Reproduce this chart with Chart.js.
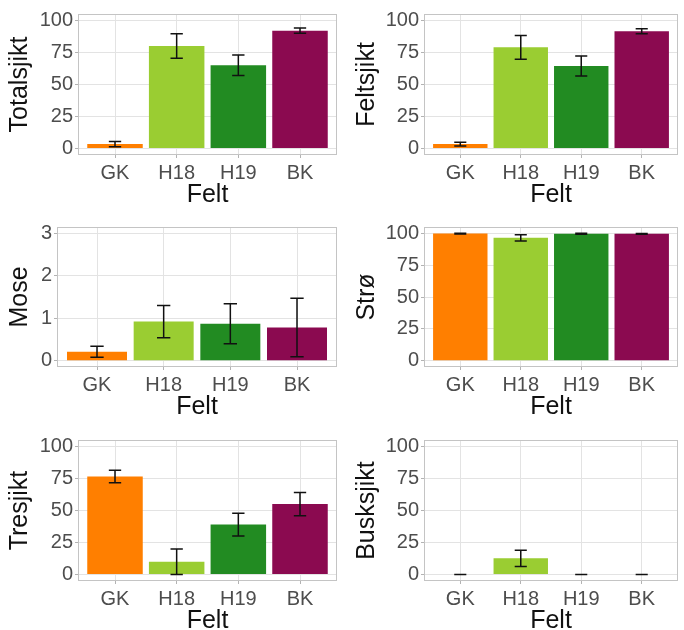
<!DOCTYPE html>
<html>
<head>
<meta charset="utf-8">
<script src="https://cdn.jsdelivr.net/npm/chart.js@4/dist/chart.umd.min.js"></script>
<style>
  html, body { margin: 0; padding: 0; background: #fff; overflow: hidden; }
  #wrap { position: relative; width: 684px; height: 630px; }
  #wrap canvas { position: absolute; }
</style>
</head>
<body>
<div id="wrap"></div>
<script>
// Field categories and their bar colours
const categories = ['GK', 'H18', 'H19', 'BK'];
const barColors = ['#FF7F00', '#9ACD32', '#228B22', '#8B0A50'];

// Mean cover per field and error (± half-width) for each layer
const totalsjikt    = [3.5, 80, 65, 92];
const totalsjiktErr = [2, 9.5, 8, 2];
const feltsjikt     = [3.5, 79, 64.5, 91.5];
const feltsjiktErr  = [1.5, 9.3, 7.8, 2];
const mose          = [0.21, 0.92, 0.87, 0.78];
const moseErr       = [0.13, 0.38, 0.47, 0.69];
const stro          = [99.8, 96.5, 99.7, 99.6];
const stroErr       = [0.3, 2.5, 0.3, 0.3];
const tresjikt      = [76.5, 10, 39, 55];
const tresjiktErr   = [4.9, 10, 8.9, 9];
const busksjikt     = [0, 12.7, 0, 0];
const busksjiktErr  = [0, 6.3, 0, 0];

// Y tick values
const pctMajor  = [0, 25, 50, 75, 100];
const pctMinor  = [12.5, 37.5, 62.5, 87.5];
const moseMajor = [0, 1, 2, 3];
const moseMinor = [0.5, 1.5, 2.5];

const xTitle = 'Felt';
const FONT = '"Liberation Sans", Arial, Helvetica, sans-serif';

// Page layout of the six plot panels: [left, top, right, bottom]
const panels = [
  { title: 'Totalsjikt', mean: totalsjikt, err: totalsjiktErr, lim: [-5, 105],     major: pctMajor,  minor: pctMinor,  col: 0,   rect: [78, 12, 337, 155] },
  { title: 'Feltsjikt',  mean: feltsjikt,  err: feltsjiktErr,  lim: [-5, 105],     major: pctMajor,  minor: pctMinor,  col: 342, rect: [424, 12, 678, 155] },
  { title: 'Mose',       mean: mose,       err: moseErr,       lim: [-0.15, 3.15], major: moseMajor, minor: moseMinor, col: 0,   rect: [57, 225, 337, 367] },
  { title: 'Strø',       mean: stro,       err: stroErr,       lim: [-5, 105],     major: pctMajor,  minor: pctMinor,  col: 342, rect: [424, 225, 678, 367] },
  { title: 'Tresjikt',   mean: tresjikt,   err: tresjiktErr,   lim: [-5, 105],     major: pctMajor,  minor: pctMinor,  col: 0,   rect: [78, 438, 337, 581] },
  { title: 'Busksjikt',  mean: busksjikt,  err: busksjiktErr,  lim: [-5, 105],     major: pctMajor,  minor: pctMinor,  col: 342, rect: [424, 438, 678, 581] }
];

const PAD_TOP = 12;
const X_AXIS_H = 55;
const COL_W = 342;

// Error bars drawn through the chart's own scales
function errorBars(means, errs) {
  return {
    id: 'errorBars',
    afterDatasetsDraw(chart) {
      const { ctx, scales: { x, y } } = chart;
      ctx.save();
      ctx.strokeStyle = '#111';
      ctx.lineWidth = 1.5;
      means.forEach((m, i) => {
        const cx = x.getPixelForValue(i + 1);
        const x0 = x.getPixelForValue(i + 0.9);
        const x1 = x.getPixelForValue(i + 1.1);
        const yHi = y.getPixelForValue(m + errs[i]);
        const yLo = y.getPixelForValue(m - errs[i]);
        ctx.beginPath();
        ctx.moveTo(cx, yHi); ctx.lineTo(cx, yLo);
        ctx.moveTo(x0, yHi); ctx.lineTo(x1, yHi);
        ctx.moveTo(x0, yLo); ctx.lineTo(x1, yLo);
        ctx.stroke();
      });
      ctx.restore();
    }
  };
}

// Light grey border round the plot panel
const panelBorder = {
  id: 'panelBorder',
  afterDraw(chart) {
    const { ctx, chartArea: a } = chart;
    ctx.save();
    ctx.strokeStyle = '#c4c4c4';
    ctx.lineWidth = 1;
    ctx.strokeRect(Math.round(a.left) + 0.5, Math.round(a.top) + 0.5,
                   Math.round(a.right - a.left) - 1, Math.round(a.bottom - a.top) - 1);
    ctx.restore();
  }
};

const wrap = document.getElementById('wrap');

panels.forEach(p => {
  const [L, T, R, B] = p.rect;
  const padLeft = p.col === 0 ? 5 : 10;
  const canvas = document.createElement('canvas');
  const w = COL_W, h = (B - T) + PAD_TOP + X_AXIS_H;
  canvas.width = w; canvas.height = h;
  canvas.style.left = p.col + 'px';
  canvas.style.top = (T - PAD_TOP) + 'px';
  canvas.style.width = w + 'px';
  canvas.style.height = h + 'px';
  wrap.appendChild(canvas);

  const yTicks = [...p.major, ...p.minor].sort((a, b) => a - b);
  const isMajor = v => p.major.includes(v);

  new Chart(canvas, {
    type: 'bar',
    data: {
      datasets: [{
        data: p.mean.map((v, i) => ({ x: i + 1, y: v })),
        backgroundColor: barColors,
        borderWidth: 0,
        barPercentage: 0.9,
        categoryPercentage: 1.0
      }]
    },
    options: {
      responsive: false,
      animation: false,
      devicePixelRatio: 1,
      layout: { padding: { left: padLeft, right: p.col + COL_W - R, top: PAD_TOP, bottom: 0 } },
      plugins: { legend: { display: false }, tooltip: { enabled: false } },
      scales: {
        x: {
          type: 'linear',
          offset: false,
          min: 0.4, max: 4.6,
          afterBuildTicks: s => { s.ticks = categories.map((c, i) => ({ value: i + 1 })); },
          afterFit: s => { s.height = X_AXIS_H; },
          ticks: {
            callback: v => categories[v - 1],
            color: '#4d4d4d',
            font: { family: FONT, size: 20 },
            padding: 3,
            maxRotation: 0, autoSkip: false
          },
          grid: { offset: false, color: '#e3e3e3', lineWidth: 1, tickColor: '#b3b3b3', tickLength: 3 },
          border: { display: false },
          title: {
            display: true, text: xTitle, color: '#111',
            font: { family: FONT, size: 25 }, padding: { top: 0, bottom: 0 }
          }
        },
        y: {
          type: 'linear',
          min: p.lim[0], max: p.lim[1],
          afterBuildTicks: s => { s.ticks = yTicks.map(v => ({ value: v })); },
          afterFit: s => { s.width = L - p.col - padLeft; },
          ticks: {
            callback: v => isMajor(v) ? String(v) : '',
            color: '#4d4d4d',
            font: { family: FONT, size: 20 },
            padding: 2
          },
          grid: {
            color: c => isMajor(c.tick.value) ? '#e3e3e3' : '#f0f0f0',
            lineWidth: c => isMajor(c.tick.value) ? 1 : 0.6,
            tickColor: c => isMajor(c.tick.value) ? '#b3b3b3' : 'rgba(0,0,0,0)',
            tickLength: 3
          },
          border: { display: false },
          title: {
            display: true, text: p.title, color: '#111',
            font: { family: FONT, size: 25 }, padding: { top: 0, bottom: 0 }
          }
        }
      }
    },
    plugins: [errorBars(p.mean, p.err), panelBorder]
  });
});
</script>
</body>
</html>
